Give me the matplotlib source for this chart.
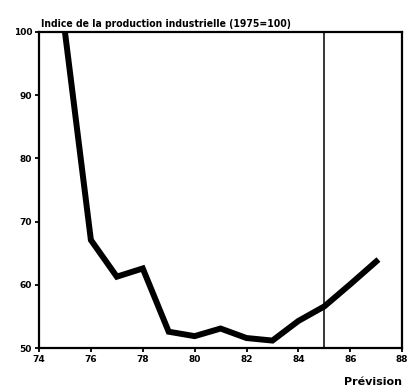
import matplotlib
matplotlib.use("Agg")
from matplotlib import pyplot as plt

# indice de la production industrielle, 1975=100
years = [75, 76, 77, 78, 79, 80, 81, 82, 83, 84, 85, 86, 87]
indice = [100, 67.1, 61.3, 62.6, 52.6, 51.9, 53.1, 51.6, 51.2, 54.3, 56.6, 60.1, 63.7]
xticks = [74, 76, 78, 80, 82, 84, 86, 88]
yticks = [50, 60, 70, 80, 90, 100]
prevision_year = 85

plt.rcParams["font.family"] = "DejaVu Sans"
fig = plt.figure(figsize=(4.15, 3.89), dpi=100)
ax = fig.add_axes([0.094, 0.105, 0.875, 0.813])

ax.plot(years, indice, color="black", lw=4.3, solid_joinstyle="miter")
ax.axvline(prevision_year, color="black", lw=1.1)

ax.set_xlim(74, 88)
ax.set_ylim(50, 100)
ax.set_xticks(xticks)
ax.set_yticks(yticks)
ax.set_xticklabels([str(v) for v in xticks], fontsize=6.5, fontweight="bold")
ax.set_yticklabels([str(v) for v in yticks], fontsize=6.5, fontweight="bold")
ax.tick_params(direction="out", length=3, width=1.3, pad=2)
for s in ax.spines.values():
    s.set_linewidth(1.6)

ax.text(0.005, 1.01, "Indice de la production industrielle (1975=100)",
        transform=ax.transAxes, fontsize=7.5, fontweight="bold",
        fontstretch="condensed", va="bottom")
ax.text(1.0, -0.09, "Prévision", transform=ax.transAxes, fontsize=8,
        fontweight="bold", ha="right", va="top")

fig.savefig("out.png", dpi=100)
